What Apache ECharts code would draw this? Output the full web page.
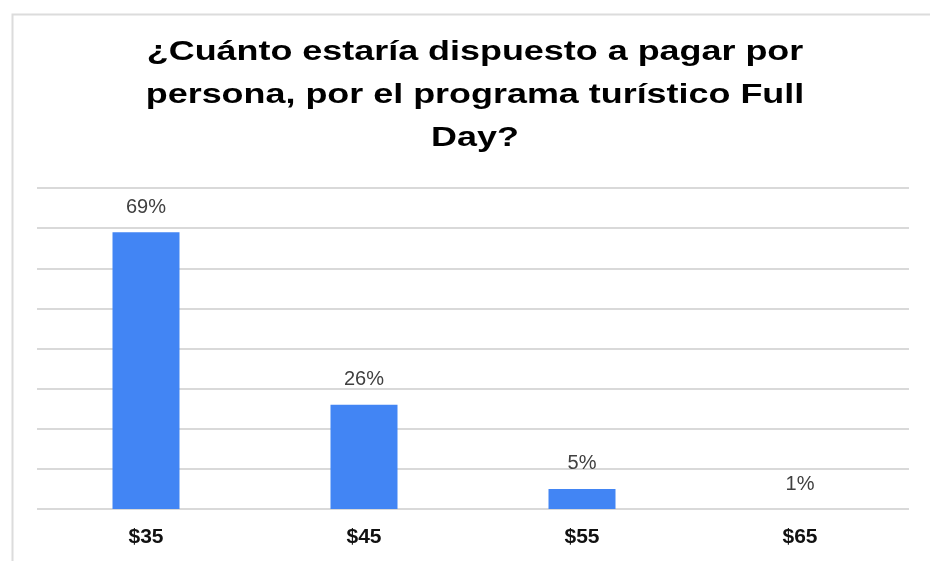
<!DOCTYPE html>
<html><head><meta charset="utf-8">
<script src="https://cdn.jsdelivr.net/npm/echarts@6/dist/echarts.min.js"></script>
<style>html,body{margin:0;padding:0;background:#fff}#c{width:930px;height:561px}</style>
</head><body><div id="c"></div>
<script>
var titleText = "¿Cuánto estaría dispuesto a pagar por\npersona, por el programa turístico Full\nDay?";
var categories = ["$35", "$45", "$55", "$65"];
var values = [69, 26, 5, 0];
var valueLabels = ["69%", "26%", "5%", "1%"];
var yMin = 0, yMax = 80, yInterval = 10;

var chart = echarts.init(document.getElementById('c'));
chart.setOption({
  animation: false,
  backgroundColor: '#fff',
  graphic: [{
    type: 'rect', left: 10, top: 12,
    shape: {x: 0, y: 0, width: 1000, height: 1000},
    style: {fill: 'none', stroke: '#dcdcdc', lineWidth: 2},
    silent: true
  }, {
    type: 'text', x: 475, y: 31, scaleX: 1.33, silent: true,
    style: {
      text: titleText, textAlign: 'center', textVerticalAlign: 'top',
      fontFamily: 'Liberation Sans, Arial, sans-serif', fontWeight: 'bold', fontSize: 27,
      lineHeight: 43, fill: '#000'
    }
  }],
  grid: {left: 37, right: 21, top: 188, bottom: 52, containLabel: false},
  xAxis: {
    type: 'category', data: categories,
    axisLine: {show: false}, axisTick: {show: false},
    axisLabel: {margin: 18, fontFamily: 'Liberation Sans, Arial, sans-serif', fontWeight: 'bold', fontSize: 21, color: '#111'}
  },
  yAxis: {
    type: 'value', min: yMin, max: yMax, interval: yInterval,
    axisLabel: {show: false}, axisLine: {show: false}, axisTick: {show: false},
    splitLine: {lineStyle: {color: '#d9d9d9', width: 2}}
  },
  series: [{
    type: 'bar', data: values, barWidth: 67,
    itemStyle: {color: '#4285F4'},
    label: {
      show: true, position: 'top', distance: 15,
      formatter: function(p){ return valueLabels[p.dataIndex]; },
      fontFamily: 'Liberation Sans, Arial, sans-serif', fontSize: 20, color: '#404040'
    }
  }]
});
</script></body></html>
